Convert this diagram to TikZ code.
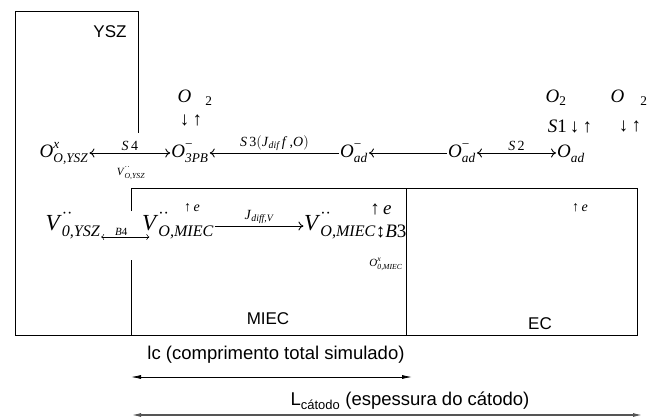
\documentclass[tikz,border=0pt]{standalone}
\usepackage{fontspec}
\setmainfont{Liberation Serif}
\setsansfont{Liberation Sans}
\usetikzlibrary{positioning, arrows.meta, calc}
\definecolor{dimgray}{HTML}{555555}
% Kroger-Vink species: base, superscript, subscript
\newcommand{\kv}[3]{\textit{#1}\rlap{\raisebox{0.12em}{\textsuperscript{#2}}}%
  \raisebox{-0.12em}{\textsubscript{\itshape #3}}}

\begin{document}
\begin{tikzpicture}[
  x=1pt, y=-1pt,
  species/.style={font=\fontsize{19}{19}\selectfont, inner sep=1pt,
    text height=10pt, text depth=2pt},
  vacancy/.style={font=\fontsize{23}{23}\selectfont, inner sep=0.5pt,
    text height=14pt, text depth=6pt},
  gas/.style={font=\fontsize{19}{19}\selectfont, inner sep=1pt},
  small/.style={font=\fontsize{14}{14}\selectfont, inner sep=2pt},
  tiny/.style={font=\fontsize{11}{11}\selectfont, inner sep=1pt},
  region/.style={font=\sffamily\fontsize{17}{17}\selectfont},
  dimlabel/.style={font=\sffamily\fontsize{18.5}{18.5}\selectfont},
  wall/.style={line width=0.8pt},
  arr/.style={line width=0.9pt, >={To[length=5pt,width=9pt]}},
  thinarr/.style={line width=0.5pt, >={To[length=3pt,width=6pt]}},
  dim/.style={line width=#1, >={Latex[length=10pt,width=4pt]}},
]
\useasboundingbox (0,0) rectangle (656,418);

% Regions
\draw[wall] (15,335) -- (15,11) -- (138,11) -- (138,133);
\draw[wall] (131,211) -- (131,188) -- (637,188) -- (637,335) -- (15,335);
\draw[wall] (131,260) -- (131,335);
\draw[wall] (406,188) -- (406,335);
\node[region] (ysz) at (110,32) {YSZ};
\node[region] (miec) at (268,319) {MIEC};
\node[region] (ec) at (540,324) {EC};

% Surface species
\node[species] (oyz) at (64,153) {\kv{O}{\itshape x}{O,YSZ}};
\node[species] (o3pb) at (190,153) {\kv{O}{−}{3PB}};
\node[species] (oadA) at (354,153) {\kv{O}{−}{ad}};
\node[species] (oadB) at (462,153) {\kv{O}{−}{ad}};
\node[species] (oad) at (571,153) {\textit{O}\raisebox{-0.12em}{\textsubscript{\itshape ad}}};

\draw[arr, <->] (oyz) -- (o3pb) node[small, midway, above] {\textit{S}\,4};
\draw[arr, ->] (oadA) -- (o3pb) node[small, midway, above]
  {\textit{S}\,3\big(\textit{J}\textsubscript{\itshape dif}\,\textit{f}\,,\textit{O}\big)};
\draw[arr, ->] (oadB) -- (oadA);
\draw[arr, <->] (oadB) -- (oad) node[small, midway, above] {\textit{S}\,2};

% Gas phase
\node[gas] (o2A) at (195,98) {\textit{O}\hspace{14pt}\textsubscript{2}};
\node[gas] (udA) at (191,120) {↓\,↑};
\node[gas] (o2B) at (556,98) {\textit{O}\textsubscript{2}};
\node[gas] (s1) at (570,126) {\textit{S}1\,↓\,↑};
\node[gas] (o2C) at (629,98) {\textit{O}\hspace{16pt}\textsubscript{2}};
\node[gas] (udC) at (630,126) {↓\,↑};

\node[tiny] (vo) at (131,173) {\kv{V}{··}{O,YSZ}};

% Bulk species
\node[vacancy] (vysz) at (73,226) {\kv{V}{··}{0,YSZ}};
\node[vacancy] (vmA) at (178,226) {\kv{V}{··}{O,MIEC}};
\node[vacancy] (vmB) at (340,226) {\kv{V}{··}{O,MIEC}};
\node[gas, right=-1pt of vmB, yshift=-5pt, inner sep=0pt] (b3) {↕\textit{B}3};

\draw[thinarr, <->, shorten >=-8pt] ([yshift=-11pt]vysz.east) -- ([yshift=-11pt]vmA.west)
  node[tiny, midway, above] {\textit{B}4};
\draw[arr, ->] (vmA) -- (vmB) node[small, midway, above]
  {\textit{J}\textsubscript{\itshape diff,V}};

\node[small] (eA) at (192,208) {↑\,\textit{e}};
\node[gas] (eB) at (381,209) {↑\,\textit{e}};
\node[small] (eC) at (580,208) {↑\,\textit{e}};
\node[tiny] (oxm) at (386,264) {\kv{O}{\itshape x}{0,MIEC}};

% Lengths
\coordinate (lcL) at (131,377);
\coordinate (lcR) at (412,377);
\draw[dim=0.8pt, <->] (lcL) -- (lcR);
\node[dimlabel] (lc) at (276,355) {lc (comprimento total simulado)};

\coordinate (ctL) at (131,415);
\coordinate (ctR) at (643,415);
\draw[dim=1.4pt, dimgray, <->] (ctL) -- (ctR);
\node[dimlabel] (ct) at (410,401) {L\textsubscript{cátodo} (espessura do cátodo)};

\end{tikzpicture}
\end{document}
